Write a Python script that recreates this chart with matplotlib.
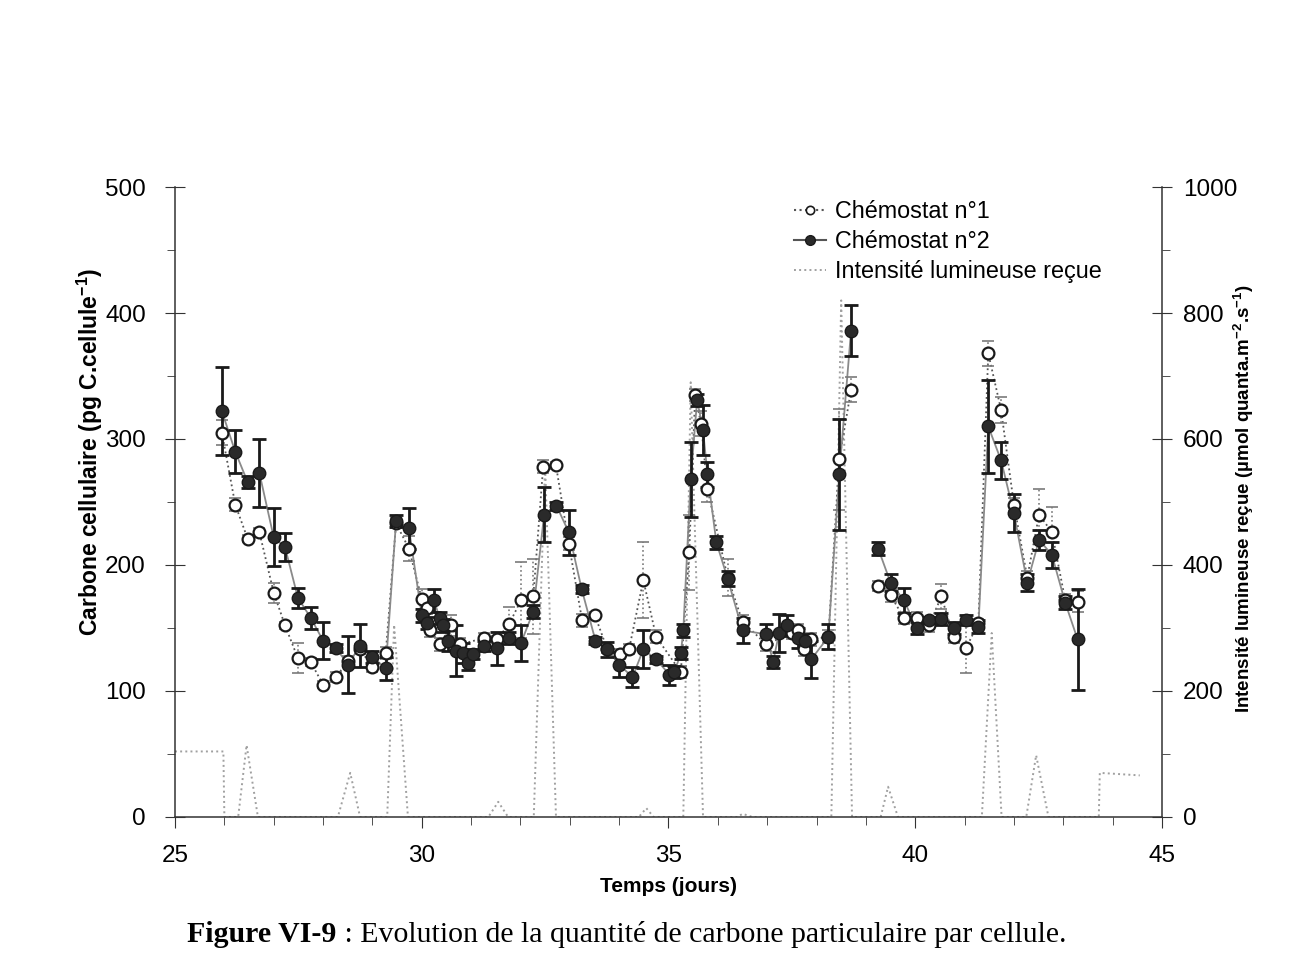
import numpy as np
import matplotlib.pyplot as plt
from matplotlib.lines import Line2D

plt.rcParams['font.family'] = ['Liberation Sans', 'DejaVu Sans']
plt.rcParams['mathtext.fontset'] = 'custom'
plt.rcParams['mathtext.rm'] = 'Liberation Sans'
plt.rcParams['mathtext.bf'] = 'Liberation Sans:bold'

# Chémostat n°1 (cercles ouverts)
t1 = [25.95, 26.22, 26.47, 26.71, 27.00, 27.23, 27.49, 27.75, 28.00, 28.26,
      28.51, 28.75, 29.00, 29.27, 29.48, 29.74, 30.00, 30.10, 30.17, 30.36,
      30.60, 30.77, 31.27, 31.52, 31.77, 32.01, 32.26, 32.46, 32.72, 32.98,
      33.25, 33.51, 33.76, 34.02, 34.20, 34.49, 34.75, 35.25, 35.42, 35.54,
      35.66, 35.79, 36.20, 36.50, 36.98, 37.50, 37.63, 37.75, 37.89, 38.24,
      38.46, 38.70, 39.25, 39.50, 39.77, 40.03, 40.28, 40.53, 40.78, 41.03,
      41.28, 41.48, 41.74, 42.00, 42.27, 42.51, 42.77, 43.04, 43.29]
c1 = [305, 248, 221, 226, 178, 152, 126, 123, 105, 111,
      124, 133, 119, 130, 233, 213, 173, 166, 148, 137,
      152, 137, 142, 141, 153, 172, 175, 278, 279, 217,
      156, 160, 133, 129, 133, 188, 143, 115, 210, 335,
      312, 260, 190, 155, 137, 146, 148, 133, 141, 143,
      284, 339, 183, 176, 158, 158, 152, 175, 143, 134,
      154, 368, 323, 248, 190, 240, 226, 172, 171]
e1 = [10, 5, 3, 3, 8, 3, 12, 3, 3, 4,
      4, 4, 4, 5, 4, 10, 8, 5, 5, 5,
      8, 5, 4, 3, 14, 30, 30, 5, 3, 5,
      5, 3, 3, 4, 4, 30, 5, 5, 30, 5,
      10, 10, 15, 5, 5, 5, 5, 5, 5, 5,
      40, 10, 4, 5, 5, 5, 5, 10, 5, 20,
      3, 10, 10, 5, 5, 20, 20, 5, 8]

# Chémostat n°2 (cercles pleins)
t2 = [25.95, 26.22, 26.47, 26.71, 27.00, 27.23, 27.49, 27.75, 28.00, 28.26,
      28.51, 28.75, 29.00, 29.27, 29.48, 29.74, 30.00, 30.10, 30.25, 30.36,
      30.44, 30.54, 30.70, 30.84, 30.94, 31.03, 31.27, 31.52, 31.77, 32.01,
      32.26, 32.48, 32.73, 32.98, 33.24, 33.52, 33.76, 34.00, 34.27, 34.49,
      34.75, 35.02, 35.12, 35.25, 35.30, 35.45, 35.58, 35.70, 35.79, 35.97,
      36.20, 36.50, 36.98, 37.12, 37.24, 37.41, 37.63, 37.77, 37.89, 38.24,
      38.46, 38.70, 39.25, 39.50, 39.77, 40.03, 40.28, 40.53, 40.78, 41.03,
      41.28, 41.48, 41.74, 42.00, 42.27, 42.51, 42.77, 43.04, 43.29]
c2 = [322, 290, 266, 273, 222, 214, 174, 158, 140, 134,
      121, 136, 127, 118, 235, 229, 160, 154, 172, 158,
      152, 140, 132, 130, 122, 129, 136, 134, 142, 138,
      163, 240, 247, 226, 181, 140, 133, 121, 111, 133,
      125, 113, 115, 130, 148, 268, 331, 307, 272, 218,
      189, 148, 145, 123, 146, 152, 142, 140, 125, 143,
      272, 386, 213, 186, 172, 150, 156, 157, 150, 156,
      151, 310, 283, 241, 186, 220, 208, 170, 141]
e2 = [35, 17, 5, 27, 23, 11, 8, 9, 15, 3,
      23, 17, 5, 9, 5, 16, 5, 5, 9, 5,
      5, 8, 20, 8, 5, 4, 4, 13, 5, 14,
      5, 22, 3, 18, 3, 3, 6, 10, 8, 15,
      3, 8, 5, 5, 5, 30, 5, 20, 10, 5,
      6, 10, 8, 5, 15, 8, 8, 5, 15, 10,
      44, 20, 5, 7, 10, 5, 3, 5, 5, 4,
      5, 37, 15, 15, 7, 8, 10, 5, 40]

# Intensité lumineuse reçue (axe de droite)
tl = [25.0, 25.98, 26.0, 26.28, 26.45, 26.68, 28.3, 28.55, 28.75, 29.3,
      29.44, 29.72, 31.35, 31.55, 31.75, 32.27, 32.5, 32.72, 34.4, 34.55,
      34.7, 35.3, 35.45, 35.7, 36.4, 36.5, 36.7, 38.3, 38.5, 38.72,
      39.3, 39.45, 39.65, 41.35, 41.55, 41.75, 42.25, 42.45, 42.7, 43.72,
      43.74, 44.55]
il = [104, 104, 0, 0, 114, 0, 0, 70, 0, 0,
      305, 0, 0, 24, 0, 0, 560, 0, 0, 14,
      0, 0, 690, 0, 0, 5, 0, 0, 820, 0,
      0, 48, 0, 0, 292, 0, 0, 98, 0, 0,
      70, 66]

coupure = 38.9  # pas de trait entre les deux mesures

fig = plt.figure(figsize=(13.1, 9.72), dpi=100)
ax = fig.add_axes([0.1336, 0.1595, 0.7534, 0.6481])
ax2 = ax.twinx()
ax.set_zorder(ax2.get_zorder() + 1)
ax.patch.set_visible(False)

# lumière
ax2.plot(tl, il, ls=':', color='#a0a0a0', lw=1.4)
ax2.set_ylim(0, 1000)

t1a = np.array(t1); c1a = np.array(c1)
t2a = np.array(t2); c2a = np.array(c2)
for m in (t1a < coupure, t1a > coupure):
    ax.plot(t1a[m], c1a[m], ls=':', color='#555555', lw=1.3, zorder=2)
for m in (t2a < coupure, t2a > coupure):
    ax.plot(t2a[m], c2a[m], ls='-', color='#8a8a8a', lw=1.3, zorder=2)

eb1 = ax.errorbar(t1, c1, yerr=e1, fmt='none', ecolor='#7a7a7a', elinewidth=1.2,
                  capsize=4, capthick=1.2, zorder=3)
eb1[2][0].set_linestyle(':')
ax.errorbar(t2, c2, yerr=e2, fmt='none', ecolor='#1a1a1a', elinewidth=2,
            capsize=5, capthick=2, zorder=3)

ax.plot(t1, c1, 'o', ls='none', mfc='white', mec='#1a1a1a', mew=1.6, ms=8.5, zorder=4)
ax.plot(t2, c2, 'o', ls='none', mfc='#2a2a2a', mec='#1a1a1a', mew=1, ms=9, zorder=5)

ax.set_xlim(25, 45)
ax.set_ylim(0, 500)
ax.set_xticks([25, 30, 35, 40, 45])
ax.set_xticks(np.arange(25, 46, 1), minor=True)
ax.set_yticks(np.arange(0, 501, 100))
ax.set_yticks(np.arange(0, 501, 50), minor=True)
ax2.set_yticks(np.arange(0, 1001, 200))
ax2.set_yticks(np.arange(0, 1001, 100), minor=True)

for a in (ax, ax2):
    a.spines['top'].set_visible(False)
    for s in a.spines.values():
        s.set_color('#333333')
        s.set_linewidth(1.1)
ax.spines['right'].set_visible(False)
ax2.spines['left'].set_visible(False)
ax2.spines['bottom'].set_visible(False)

ax.tick_params(axis='x', which='major', direction='out', length=8, labelsize=17.5, pad=12, color='#333333')
ax.tick_params(axis='x', which='minor', direction='out', length=6, color='#333333')
ax.tick_params(axis='y', which='major', direction='inout', length=14, labelsize=17.5, pad=14, color='#333333')
ax.tick_params(axis='y', which='minor', direction='out', length=6, color='#333333')
ax2.tick_params(axis='y', which='major', direction='inout', length=14, labelsize=17.5, pad=8, color='#333333')
ax2.tick_params(axis='y', which='minor', direction='out', length=6, color='#333333')

ax.set_xlabel('Temps (jours)', fontsize=15, fontweight='bold')
ax.xaxis.set_label_coords(0.5, -0.096)
ax.set_ylabel('Carbone cellulaire (pg C.cellule$^{\\mathbf{-1}}$)', fontsize=16.5,
              fontweight='bold')
ax.yaxis.set_label_coords(-0.071, 0.58)
ax2.set_ylabel('Intensité lumineuse reçue (µmol quanta.m$^{\\mathbf{-2}}$.s$^{\\mathbf{-1}}$)',
               fontsize=13.5, fontweight='bold')
ax2.yaxis.set_label_coords(1.070, 0.505)

handles = [
    Line2D([], [], ls=':', color='#555555', marker='o', mfc='white', mec='#1a1a1a', ms=6, mew=1.2),
    Line2D([], [], ls='-', color='#555555', marker='o', mfc='#2a2a2a', mec='#1a1a1a', ms=7),
    Line2D([], [], ls=':', color='#a0a0a0', lw=1.4),
]
fig.legend(handles, ['Chémostat n°1', 'Chémostat n°2', 'Intensité lumineuse reçue'],
           loc='upper left', bbox_to_anchor=(0.597, 0.806), frameon=False,
           fontsize=16.8, handlelength=1.4, handletextpad=0.35, labelspacing=0.3,
           borderpad=0)

cap = fig.text(0.143, 0.031, 'Figure VI-9', fontsize=21.5, fontweight='bold',
               family=['Liberation Serif', 'DejaVu Serif'], va='baseline')
ax.annotate(' : Evolution de la quantité de carbone particulaire par cellule.',
            xy=(1, 0), xycoords=cap, va='bottom', ha='left', fontsize=21.5,
            family=['Liberation Serif', 'DejaVu Serif'], annotation_clip=False)

fig.savefig('out.png', dpi=100)
